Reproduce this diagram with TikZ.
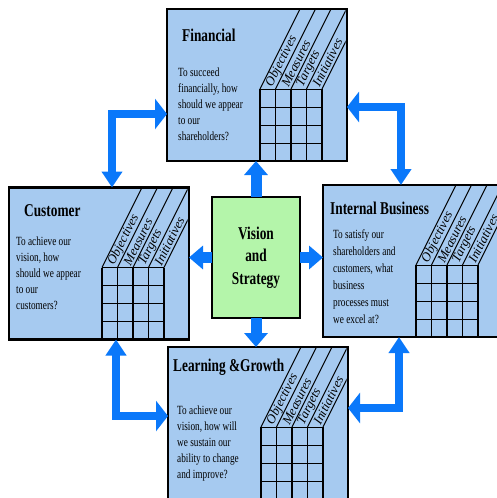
\documentclass[tikz,border=0pt]{standalone}
\usepackage{fontspec}
\setmainfont{Liberation Serif}[FakeStretch=0.74]
\newfontfamily\headfont{Liberation Serif}
\usetikzlibrary{arrows.meta,positioning}

\definecolor{cardblue}{RGB}{166,202,240}
\definecolor{visiongreen}{RGB}{180,245,170}
\definecolor{arrowblue}{RGB}{10,120,250}

\begin{document}
\begin{tikzpicture}[
  x=1pt, y=-1pt,
  card/.style={draw, line width=2.8pt, fill=cardblue, outer sep=0pt, inner sep=0pt,
               minimum width=180pt, minimum height=152pt},
  visionbox/.style={draw, line width=2.8pt, fill=visiongreen, outer sep=0pt,
               minimum width=88pt, minimum height=121pt, align=center,
               font=\fontsize{18}{22.5}\selectfont\bfseries},
  cardtitle/.style={inner sep=0pt, font=\fontsize{18}{22}\selectfont\bfseries},
  cardtext/.style={inner sep=0pt, align=left, font=\fontsize{12.5}{16}\selectfont},
  colhead/.style={inner sep=0pt, anchor=west, rotate=63.4,
                  font=\headfont\itshape\fontsize{13}{13}\selectfont},
  sidehead/.tip={Triangle[width=30pt,length=12pt]},
  endhead/.tip={Triangle[width=20pt,length=16pt]},
  corner arrow/.style={draw=arrowblue, line width=8pt, line join=miter},
  stub arrow/.style={draw=arrowblue, line width=11pt, -{Triangle[width=23pt,length=14pt]}},
  card grid/.pic={
    % slanted header strips
    \begin{scope}
      \clip (-90,1.4) rectangle (-1.4,152);
      \foreach \cx in {-87,-71.5,-56,-40.5,-25}
        \draw[line width=1pt] (\cx,80) -- ++(40,-80);
    \end{scope}
    \foreach \cx/\word in {-87/Objectives,-71.5/Measures,-56/Targets,-40.5/Initiatives}
      \node[colhead] at (\cx+9.25,77) {\word};
    % table
    \foreach \cx in {-87,-71.5,-56,-40.5,-25}
      \draw[line width=1.3pt] (\cx,80) -- (\cx,152);
    \foreach \ry in {80,98,116,134}
      \draw[line width=1pt] (-87,\ry) -- (-25,\ry);
  }
]
\clip (0,0) rectangle (497,498);
\fill[white] (0,0) rectangle (497,498);

% the four perspectives
\node[card] (fin) at (257,85) {};
\node[card] (cust) at (99,263.5) {};
\node[card] (intbiz) at (413,261) {};
\node[card] (learn) at (258,423) {};
\node[visionbox] (vision) at (256,257.5) {Vision\\and\\Strategy};

\pic at (fin.north east) {card grid};
\pic at (cust.north east) {card grid};
\pic at (intbiz.north east) {card grid};
\pic at (learn.north east) {card grid};

\node[cardtitle, below right=20pt and 15pt of fin.north west] (fin-title) {Financial};
\node[cardtext, below right=59pt and 11pt of fin.north west] (fin-text)
  {To succeed\\financially, how\\should we appear\\to our\\shareholders?};

\node[cardtitle, below right=17pt and 15pt of cust.north west] (cust-title) {Customer};
\node[cardtext, below right=49pt and 7pt of cust.north west] (cust-text)
  {To achieve our\\vision, how\\should we appear\\to our\\customers?};

\node[cardtitle, below right=17pt and 7pt of intbiz.north west] (intbiz-title) {Internal Business};
\node[cardtext, below right=44pt and 10pt of intbiz.north west, font=\fontsize{12.5}{17}\selectfont] (intbiz-text)
  {To satisfy our\\shareholders and\\customers, what\\business\\processes must\\we excel at?};

\node[cardtitle, below right=12pt and 5pt of learn.north west] (learn-title) {Learning \&Growth};
\node[cardtext, below right=59pt and 9pt of learn.north west] (learn-text)
  {To achieve our\\vision, how will\\we sustain our\\ability to change\\and improve?};

% links between the perspectives
\draw[corner arrow, endhead-sidehead] ([xshift=103pt]cust.north west) |- ([yshift=-29pt]fin.west);
\draw[corner arrow, endhead-sidehead] ([xshift=78pt]intbiz.north west) |- ([yshift=-22pt]fin.east);
\draw[corner arrow, endhead-sidehead] ([xshift=107pt]cust.south west) |- ([yshift=7pt]learn.west);
\draw[corner arrow, endhead-sidehead] ([xshift=76pt]intbiz.south west) |- ([yshift=15pt]learn.east);

% vision to each perspective
\draw[stub arrow] (vision.north) -- (vision.north |- fin.south);
\draw[stub arrow] (vision.south) -- (vision.south |- learn.north);
\draw[stub arrow] (vision.west) -- (vision.west -| cust.east);
\draw[stub arrow] (vision.east) -- (vision.east -| intbiz.west);
\end{tikzpicture}
\end{document}
